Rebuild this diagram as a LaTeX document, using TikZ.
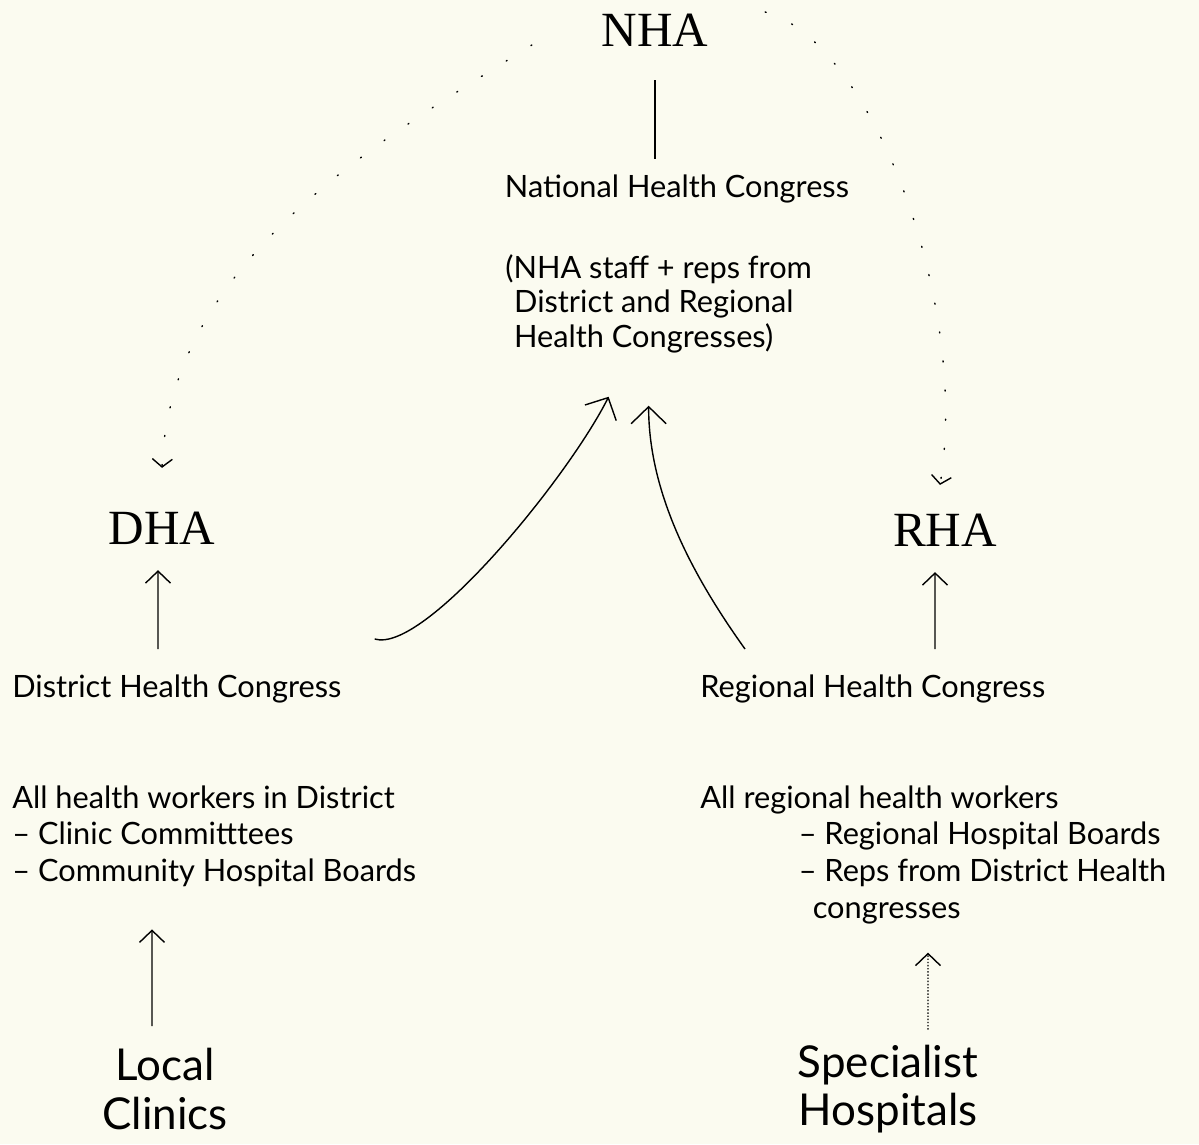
\documentclass[tikz,border=0pt]{standalone}
\usepackage{fontspec}
\setmainfont{Lato}
\newfontfamily\titlefont{Liberation Serif}
\usetikzlibrary{arrows.meta,positioning}
\definecolor{paper}{HTML}{FBFBF0}

\begin{document}
\begin{tikzpicture}[
  x=0.02cm, y=-0.02cm,
  authority/.style={font=\titlefont\fontsize{28}{30}\selectfont, inner sep=2pt},
  txt/.style={font=\fontsize{17.5}{21}\selectfont, inner sep=0pt, align=left},
  source/.style={font=\fontsize{25}{27.5}\selectfont, align=center, inner sep=0pt},
  arr/.style={-{Straight Barb[length=2.4mm,width=5mm]}, thick},
  bigarr/.style={-{Straight Barb[length=3.4mm,width=7mm]}, thick},
  dots/.style={dash pattern=on 0.6pt off 16pt, line cap=round, thick}
]
\fill[paper] (0,0) rectangle (1199,1144);
\useasboundingbox (0,0) rectangle (1199,1144);

% authorities
\node[authority] (nha) at (655,30) {NHA};
\node[authority] (dha) at (162,528) {DHA};
\node[authority] (rha) at (945,530) {RHA};

% congresses
\node[txt, anchor=base] (nhc) at (677,197) {National Health Congress};
\node[txt, anchor=north west, font=\fontsize{17.5}{19.8}\selectfont] (nhcnote) at (505,254)
  {(NHA staff + reps from\\\hspace{5pt}District and Regional\\\hspace{5pt}Health Congresses)};
\node[txt, anchor=base west] (dhc) at (12,697) {District Health Congress};
\node[txt, anchor=base west] (rhc) at (700,697) {Regional Health Congress};

% members
\node[txt, anchor=north west] (dwork) at (12,785)
  {All health workers in District\\-- Clinic Committtees\\-- Community Hospital Boards};
\node[txt, anchor=north west] (rwork) at (700,785)
  {All regional health workers\\\hspace{56pt}-- Regional Hospital Boards\\\hspace{56pt}-- Reps from District Health\\\hspace{64pt}congresses};

% sources
\node[source] (clinics) at (165,1089) {Local\\Clinics};
\node[source] (hospitals) at (888,1089) {Specialist\\Hospitals};

% links
\draw[thick, shorten <=0.6cm, shorten >=0.3cm] (nha.south) -- (nha.south |- nhc.north);
\draw[dots, -{Straight Barb[length=1.6mm,width=4mm]}] ([shift={(-66,15)}]nha.west)
  .. controls (380,140) and (170,260) .. ([yshift=0.8cm]dha.north);
\draw[dots, -{Straight Barb[length=1.6mm,width=4mm]}] ([shift={(53,-18)}]nha.east)
  .. controls (870,40) and (970,300) .. ([shift={(-5,-25)}]rha.north);
\draw[arr] ([xshift=-0.08cm, yshift=0.5cm]dhc.north -| dha.south) -- ([shift={(-4,22)}]dha.south);
\draw[arr] ([xshift=-0.2cm, yshift=0.5cm]rhc.north -| rha.south) -- ([shift={(-10,22)}]rha.south);
\draw[bigarr] ([shift={(33,-35)}]dhc.north east)
  .. controls +(50,15) and +(-40,80) .. ([shift={(-50,43)}]nhcnote.south);
\draw[bigarr] ([shift={(45,-25)}]rhc.north west)
  .. controls +(-50,-70) and +(0,90) .. ([shift={(-10,52)}]nhcnote.south);
\draw[arr] ([shift={(-13,-22)}]clinics.north) -- ([xshift=-0.26cm, yshift=-0.84cm]clinics.north |- dwork.south);
\draw[arr, densely dotted] ([shift={(40,-15)}]hospitals.north) -- ([xshift=0.8cm, yshift=-0.56cm]hospitals.north |- rwork.south);
\end{tikzpicture}
\end{document}
